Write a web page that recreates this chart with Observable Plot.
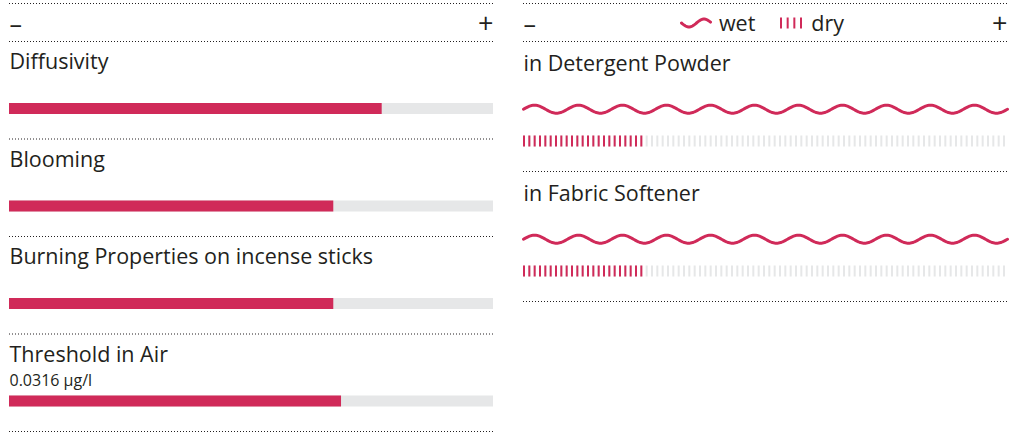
<!DOCTYPE html>
<html>
<head>
<meta charset="utf-8">
<script src="https://cdn.jsdelivr.net/npm/d3@7"></script>
<script src="https://cdn.jsdelivr.net/npm/@observablehq/plot@0.6"></script>
<style>
  html, body { margin: 0; padding: 0; background: #fff; }
  #wrap { position: relative; width: 1010px; height: 435px; display: flex; font-family: "Open Sans", sans-serif; }
  #wrap svg { display: block; }
  #legend { position: absolute; left: 520px; width: 484px; top: 12.4px; display: flex; justify-content: center; align-items: center;
            font-family: "Open Sans", sans-serif; font-size: 21.5px; line-height: 1; color: #231f20; }
</style>
</head>
<body>
<div id="wrap"></div>
<script>
// ---- data ----
const leftCategories = ["Diffusivity", "Blooming", "Burning Properties on incense sticks", "Threshold in Air"];
const leftValues = [0.77, 0.67, 0.67, 0.686];
const leftNotes = ["", "", "", "0.0316 µg/l"];
const rightCategories = ["in Detergent Powder", "in Fabric Softener"];
const wetValues = [1, 1];
const dryValues = [0.25, 0.25];
const scaleEnds = ["–", "+"];
const legendLabels = ["wet", "dry"];

// ---- style ----
const RED = "#d02a59", GRAY = "#e6e7e8", TEXT = "#231f20";
const FS = 21.5;

// curve that draws a sine wave along each segment
function waveCurve(period, amp) {
  return (context) => {
    let px, py, n = 0;
    return {
      areaStart() {}, areaEnd() {},
      lineStart() { n = 0; },
      lineEnd() {},
      point(x, y) {
        x = +x; y = +y;
        if (n++ === 0) context.moveTo(x, y);
        else {
          const len = x - px;
          const steps = Math.max(2, Math.ceil(Math.abs(len)));
          for (let k = 1; k <= steps; ++k) {
            const t = k / steps, d = len * t;
            context.lineTo(px + d, py + (y - py) * t - amp * Math.sin(2 * Math.PI * d / period));
          }
        }
        px = x; py = y;
      }
    };
  };
}

const leftRows = leftCategories.map((name, i) => ({name, i, value: leftValues[i], note: leftNotes[i]}));
const rightRows = rightCategories.map((name, i) => ({name, i, wet: wetValues[i], dry: dryValues[i]}));
const wetLines = rightRows.flatMap(r => [{name: r.name, i: r.i, x: 0}, {name: r.name, i: r.i, x: r.wet}]);

const dotted = {stroke: TEXT, strokeDasharray: "1 2", strokeWidth: 1};

function header() {
  return [
    Plot.ruleY([0], {...dotted, dy: -38}),
    Plot.text([scaleEnds[0]], {x: 0, y: 0, text: d => d, dy: -17, textAnchor: "start", fontSize: 25, fill: TEXT}),
    Plot.text([scaleEnds[1]], {x: 1, y: 0, text: d => d, dy: -17, textAnchor: "end", fontSize: 27, fill: TEXT})
  ];
}

const left = Plot.plot({
  width: 508, height: 435,
  marginLeft: 9, marginRight: 15, marginTop: 41, marginBottom: 4,
  style: {fontFamily: "Open Sans, sans-serif", background: "transparent", color: TEXT},
  x: {domain: [0, 1], axis: null},
  y: {domain: [0, leftCategories.length], range: [41, 431], axis: null},
  marks: [
    ...header(),
    Plot.ruleY(d3.range(leftCategories.length + 1), {y: d => d, ...dotted}),
    Plot.text(leftRows, {x: 0, y: "i", text: "name", dy: 21.1, textAnchor: "start", fontSize: FS, fill: TEXT}),
    Plot.text(leftRows.filter(d => d.note), {x: 0, y: "i", text: "note", dy: 46.5, textAnchor: "start", fontSize: 16, fill: TEXT}),
    Plot.rect(leftRows, {x1: 0, x2: 1, y1: "i", y2: d => d.i + 1, insetTop: 62, insetBottom: 24.5, fill: GRAY}),
    Plot.rect(leftRows, {x1: 0, x2: "value", y1: "i", y2: d => d.i + 1, insetTop: 62, insetBottom: 24.5, fill: RED})
  ]
});

const right = Plot.plot({
  width: 502, height: 435,
  marginLeft: 15, marginRight: 3, marginTop: 41, marginBottom: 4,
  style: {fontFamily: "Open Sans, sans-serif", background: "transparent", color: TEXT},
  x: {domain: [0, 1], axis: null},
  y: {domain: [0, rightCategories.length], range: [41, 301], axis: null},
  marks: [
    ...header(),
    Plot.ruleY(d3.range(rightCategories.length + 1), {y: d => d, ...dotted}),
    Plot.text(rightRows, {x: 0, y: "i", text: "name", dy: 23.1, textAnchor: "start", fontSize: FS, fill: TEXT}),
    Plot.line(wetLines, {x: "x", y: "i", z: "name", dy: 67.7, stroke: RED, strokeWidth: 3, strokeLinecap: "round", curve: waveCurve(44, 4)}),
    Plot.ruleY(rightRows, {x1: 0, x2: 1, y: "i", dy: 99.5, stroke: GRAY, strokeWidth: 11, strokeDasharray: "2 3.3333"}),
    Plot.ruleY(rightRows, {x1: 0, x2: "dry", y: "i", dy: 99.5, stroke: RED, strokeWidth: 11, strokeDasharray: "2 3.3333"})
  ]
});

const wrap = document.getElementById("wrap");
wrap.appendChild(left);
wrap.appendChild(right);

// legend
const legend = document.createElement("div");
legend.id = "legend";
const ns = "http://www.w3.org/2000/svg";
function swatchWave() {
  const s = document.createElementNS(ns, "svg");
  s.setAttribute("width", 32); s.setAttribute("height", 16);
  const p = document.createElementNS(ns, "path");
  p.setAttribute("d", d3.line().curve(waveCurve(30, -4))([[1.5, 8], [30.5, 8]]));
  p.setAttribute("fill", "none"); p.setAttribute("stroke", RED);
  p.setAttribute("stroke-width", 3); p.setAttribute("stroke-linecap", "round");
  s.appendChild(p);
  return s;
}
function swatchDry() {
  const s = document.createElementNS(ns, "svg");
  s.setAttribute("width", 22); s.setAttribute("height", 12);
  const p = document.createElementNS(ns, "line");
  p.setAttribute("x1", 0); p.setAttribute("x2", 22); p.setAttribute("y1", 6); p.setAttribute("y2", 6);
  p.setAttribute("stroke", RED); p.setAttribute("stroke-width", 11); p.setAttribute("stroke-dasharray", "2 4.67");
  s.appendChild(p);
  return s;
}
function label(t, ml) {
  const sp = document.createElement("span");
  sp.textContent = t; sp.style.marginLeft = ml + "px";
  return sp;
}
legend.appendChild(swatchWave());
legend.appendChild(label(legendLabels[0], 7));
const dr = swatchDry();
dr.style.marginLeft = "25px";
legend.appendChild(dr);
legend.appendChild(label(legendLabels[1], 9));
wrap.appendChild(legend);
</script>
</body>
</html>
